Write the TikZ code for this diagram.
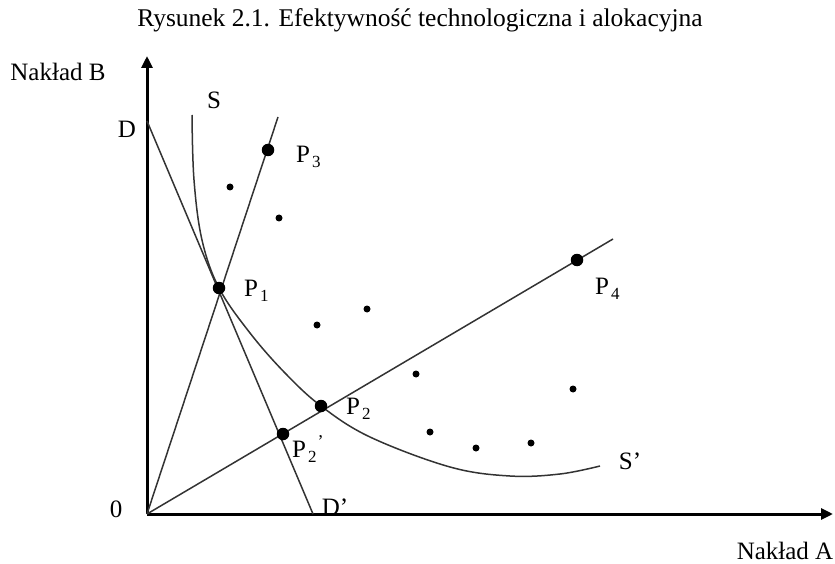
\documentclass[tikz,border=0pt]{standalone}
\usepackage{fontspec}
\setmainfont{Liberation Serif}
\usetikzlibrary{arrows.meta}
\newcommand{\lbl}[2]{#1\kern2pt\raisebox{-5pt}{\fontsize{17}{17}\selectfont #2}}
\begin{document}
\begin{tikzpicture}[x=1pt,y=-1pt,
  axis/.style={line width=3pt,-{Triangle[length=12pt,width=11pt]}},
  thin line/.style={line width=1.5pt,black!80},
  bigdot/.style={circle,fill=black,inner sep=0pt,minimum size=12.5pt},
  smalldot/.style={circle,fill=black,inner sep=0pt,minimum size=7pt},
  lab/.style={font=\fontsize{25}{28}\selectfont,inner sep=0pt}]
\useasboundingbox (0,0) rectangle (835,564);
\node[font=\fontsize{25.5}{30}\selectfont] (title) at (420,20) {Rysunek 2.1. Efektywność technologiczna i alokacyjna};
% axes
\coordinate (O) at (147,514);
\coordinate (ytip) at (147,56);
\coordinate (xtip) at (833,514);
\draw[axis] (O) -- (ytip);
\draw[axis] (O) -- (xtip);
\node[lab] (nb) at (58,72) {Nakład B};
\node[lab] (na) at (785,551) {Nakład A};
\node[lab] (zero) at (116,509) {0};
% isocost line D-D'
\coordinate (D) at (147,121);
\coordinate (Dp) at (313,514);
\draw[thin line] (D) -- (Dp);
\node[lab] (Dl) at (127,129) {D};
\node[lab] (Dpl) at (335,507) {D’};
% rays
\coordinate (r1) at (278,117);
\coordinate (r2) at (613,239);
\draw[thin line] (O) -- (r1);
\draw[thin line] (O) -- (r2);
% isoquant
\draw[thin line] plot[smooth,tension=0.6] coordinates {(192,115) (194,180) (202,240) (219,288) (250,333) (285,373) (321,406) (370,437) (450,467) (510,476) (560,474) (600,466)};
\node[lab] (Sl) at (214,100) {S};
\node[lab] (Spl) at (630,461) {S’};
% points
\node[bigdot] (P1) at (219,288) {};
\node[bigdot] (P2) at (321,406) {};
\node[bigdot] (P2p) at (283,434) {};
\node[bigdot] (P3) at (268,150) {};
\node[bigdot] (P4) at (577,260) {};
\node[lab,anchor=west] (P1l) at (244,291) {\lbl{P}{1}};
\node[lab,anchor=west] (P2l) at (346,409) {\lbl{P}{2}};
\node[lab,anchor=west] (P2pl) at (292,449) {\lbl{P}{2}\kern1pt\raisebox{10pt}{\fontsize{18}{18}\selectfont ’}};
\node[lab,anchor=west] (P3l) at (296,157) {\lbl{P}{3}};
\node[lab,anchor=west] (P4l) at (595,289) {\lbl{P}{4}};
% other observations
\foreach \p [count=\i] in {(230,187),(279,218),(317,325),(367,309),(416,374),(430,432),(476,448),(531,443),(573,389)}
  \node[smalldot] (d\i) at \p {};
\end{tikzpicture}
\end{document}
